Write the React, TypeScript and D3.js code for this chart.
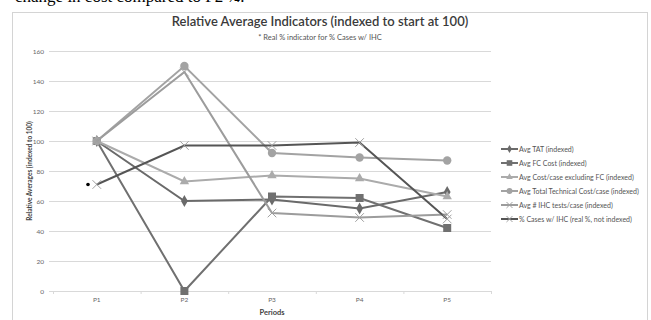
import React from "react";
import * as d3 from "d3";

const periods = ["P1", "P2", "P3", "P4", "P5"];
const yTicks = [0, 20, 40, 60, 80, 100, 120, 140, 160];
const seriesNames = [
  "Avg TAT (indexed)",
  "Avg FC Cost (indexed)",
  "Avg Cost/case excluding FC (indexed)",
  "Avg Total Technical Cost/case (indexed)",
  "Avg # IHC tests/case (indexed)",
  "% Cases w/ IHC (real %, not indexed)",
];
const tat = [100, 60, 61, 55, 66];
const fcCost = [100, 0, 63, 62, 42];
const costExFc = [100, 73, 77, 75, 63];
const totalTech = [100, 150, 92, 89, 87];
const ihcTests = [100, 146, 52, 49, 51];
const pctCases = [71, 97, 97, 99, 48];

const seriesValues = [tat, fcCost, costExFc, totalTech, ihcTests, pctCases];
const seriesColors = ["#6a6a6a", "#707070", "#ababab", "#a3a3a3", "#9c9c9c", "#555555"];
const seriesMarkers = ["diamond", "square", "triangle", "circle", "x", "x"];

const W = 651;
const H = 320;
const FONT = "Lato, 'Open Sans', sans-serif";

function Marker({ type, x, y, color, s = 1 }: { type: string; x: number; y: number; color: string; s?: number }) {
  if (type === "circle") return <circle cx={x} cy={y} r={4.2 * s} fill={color} />;
  if (type === "square") return <rect x={x - 4 * s} y={y - 4 * s} width={8 * s} height={8 * s} fill={color} />;
  if (type === "diamond")
    return <path d={d3.symbol(d3.symbolDiamond, 40 * s * s)() || ""} transform={`translate(${x},${y})`} fill={color} />;
  if (type === "triangle")
    return <path d={d3.symbol(d3.symbolTriangle, 38 * s * s)() || ""} transform={`translate(${x},${y})`} fill={color} />;
  const r = 4.3 * s;
  return (
    <path
      d={`M${x - r},${y - r}L${x + r},${y + r}M${x - r},${y + r}L${x + r},${y - r}`}
      stroke="#a0a0a0"
      strokeWidth={1}
      fill="none"
    />
  );
}

export default function App() {
  const x = d3.scaleBand<string>().domain(periods).range([53, 491]);
  const y = d3.scaleLinear().domain([0, 160]).range([291, 51]);
  const cx = (p: string) => (x(p) as number) + x.bandwidth() / 2;
  const line = d3
    .line<number>()
    .x((_, i) => cx(periods[i]))
    .y((d) => y(d));

  const legendX = 501;
  const legendY0 = 149;
  const legendStep = 14;

  return (
    <svg
      width={W}
      height={H}
      style={{ position: "absolute", left: 0, top: 0, background: "#fff" }}
      fontFamily={FONT}
    >
      <text x={15} y={1.5} fontFamily="'Liberation Serif', serif" fontSize={17} fill="#000">
        change in cost compared to P2 ¼.
      </text>
      <rect x={12.5} y={12.5} width={635} height={330} fill="#fff" stroke="#d4d4d4" />

      <text x={320} y={26} textAnchor="middle" fontSize={13} fill="#3a3a3a" fontWeight={600}>
        Relative Average Indicators (indexed to start at 100)
      </text>
      <text x={320} y={40} textAnchor="middle" fontSize={7.5} fill="#555">
        * Real % indicator for % Cases w/ IHC
      </text>

      {yTicks.map((t) => (
        <g key={t}>
          <line x1={49} x2={491} y1={y(t) + 0.5} y2={y(t) + 0.5} stroke="#d9d9d9" strokeWidth={1} />
          <text x={44} y={y(t) + 2.5} textAnchor="end" fontSize={6.5} fill="#666">
            {t}
          </text>
        </g>
      ))}
      {d3.range(periods.length + 1).map((i) => {
        const xx = 53 + i * x.bandwidth();
        return <line key={i} x1={xx + 0.5} x2={xx + 0.5} y1={291} y2={294} stroke="#d9d9d9" />;
      })}
      {periods.map((p) => (
        <text key={p} x={cx(p)} y={302} textAnchor="middle" fontSize={6.5} fill="#666">
          {p}
        </text>
      ))}
      <text x={272} y={315} textAnchor="middle" fontSize={7.5} fontWeight={700} fill="#444">
        Periods
      </text>
      <text
        transform={`translate(32,171) rotate(-90)`}
        textAnchor="middle"
        fontSize={6.5}
        fontWeight={700}
        fill="#444"
      >
        Relative Averages (indexed to 100)
      </text>

      {seriesValues.map((vals, si) => (
        <g key={si}>
          <path d={line(vals) || ""} fill="none" stroke={seriesColors[si]} strokeWidth={2} />
          {vals.map((v, i) => (
            <Marker key={i} type={seriesMarkers[si]} x={cx(periods[i])} y={y(v)} color={seriesColors[si]} />
          ))}
        </g>
      ))}
      <circle cx={88} cy={y(pctCases[0])} r={1.8} fill="#000" />

      {seriesNames.map((n, i) => {
        const ly = legendY0 + i * legendStep;
        return (
          <g key={n}>
            <line x1={legendX} x2={legendX + 17} y1={ly} y2={ly} stroke={seriesColors[i]} strokeWidth={2} />
            <Marker type={seriesMarkers[i]} x={legendX + 8.5} y={ly} color={seriesColors[i]} s={0.7} />
            <text x={legendX + 18} y={ly + 2.5} fontSize={7} fill="#555">
              {n}
            </text>
          </g>
        );
      })}
    </svg>
  );
}
